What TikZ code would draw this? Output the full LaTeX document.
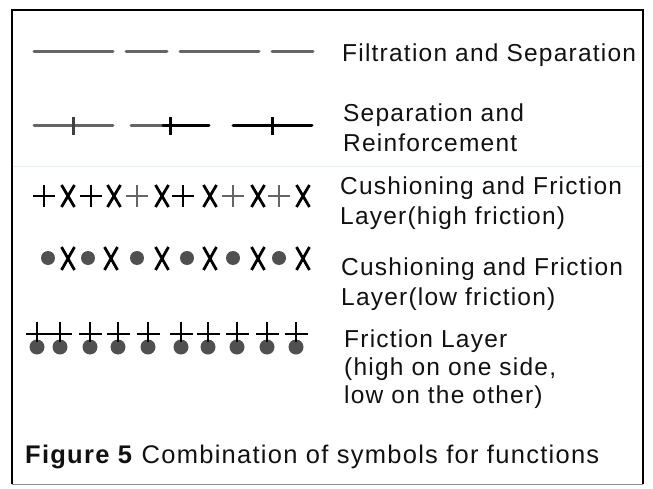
\documentclass[tikz,border=0pt]{standalone}
\usepackage{fontspec}
\setmainfont{Liberation Sans}[LetterSpace=5]
\definecolor{symgray}{HTML}{656565}
\definecolor{dotgray}{HTML}{505050}
\definecolor{scanline}{HTML}{E4F0F0}
\definecolor{ink}{HTML}{111111}
\begin{document}
\begin{tikzpicture}[x=1pt,y=-1pt,
  lbl/.style={anchor=base west, inner sep=0pt, align=left, text=ink, font=\fontsize{24.5}{30}\selectfont},
  seg/.style={line width=3pt, line cap=round},
  tick/.style={line width=3pt},
  sym/.style={line width=2.8pt},
  frame/.style={line width=2.2pt, black}]
\useasboundingbox (0,0) rectangle (653,489);
% frame
\draw[frame] (12,484) -- (12,10) -- (643,10) -- (643,484);
\draw[line width=1pt, black!45] (12,484) -- (643,484);
\draw[line width=1pt, scanline] (13,167) -- (642,167);

% row 1: filtration and separation
\foreach \a/\b in {34/113,126/167,180/259,272/313}
  \draw[seg, symgray] (\a,52) -- (\b,52);

% row 2: separation and reinforcement
\draw[seg, symgray] (34,126) -- (113,126);
\draw[tick, black!75] (73,117) -- (73,135);
\draw[seg, symgray] (131,126) -- (163,126);
\draw[seg, black] (163,126) -- (209,126);
\draw[tick, black] (170,117) -- (170,135);
\draw[seg, black] (233,126) -- (312,126);
\draw[tick, black] (272,117) -- (272,135);

% row 3: + X + X ...
\foreach \p/\c in {44/black,91/black,137/symgray,183/black,233/symgray,279/symgray}
  \draw[sym, \c] (\p-11,196) -- (\p+11,196) (\p,185) -- (\p,207);
\foreach \q in {68,114,162,210,258,303}
  \draw[sym] (\q-6.5,185) -- (\q+6.5,207) (\q+6.5,185) -- (\q-6.5,207);

% row 4: dot X dot X ...
\foreach \p in {48,88,137,187,233,279}
  \fill[dotgray] (\p,258) circle (7);
\foreach \q in {68,111,162,210,258,303}
  \draw[sym] (\q-6.5,247) -- (\q+6.5,270) (\q+6.5,247) -- (\q-6.5,270);

% row 5: + over dot
\foreach \p in {37,60,90,118,148,181,208,237,267,296} {
  \fill[dotgray] (\p,347) circle (7.5);
  \draw[sym] (\p-11.5,334) -- (\p+11.5,334) (\p,322) -- (\p,342);
}

% labels (anchor at the baseline of the last line)
\node[lbl] (t1) at (342,62) {Filtration and Separation};
\node[lbl] (t2) at (343,152) {Separation and\\Reinforcement};
\node[lbl] (t3) at (340,225) {Cushioning and Friction\\Layer(high friction)};
\node[lbl] (t4) at (341,305) {Cushioning and Friction\\Layer(low friction)};
\node[lbl, font=\fontsize{24.5}{28}\selectfont] (t5) at (344,403) {Friction Layer\\(high on one side,\\low on the other)};
\node[lbl, font=\fontsize{25.5}{30}\selectfont] (cap) at (25,463) {\textbf{Figure 5} Combination of symbols for functions};
\end{tikzpicture}
\end{document}
